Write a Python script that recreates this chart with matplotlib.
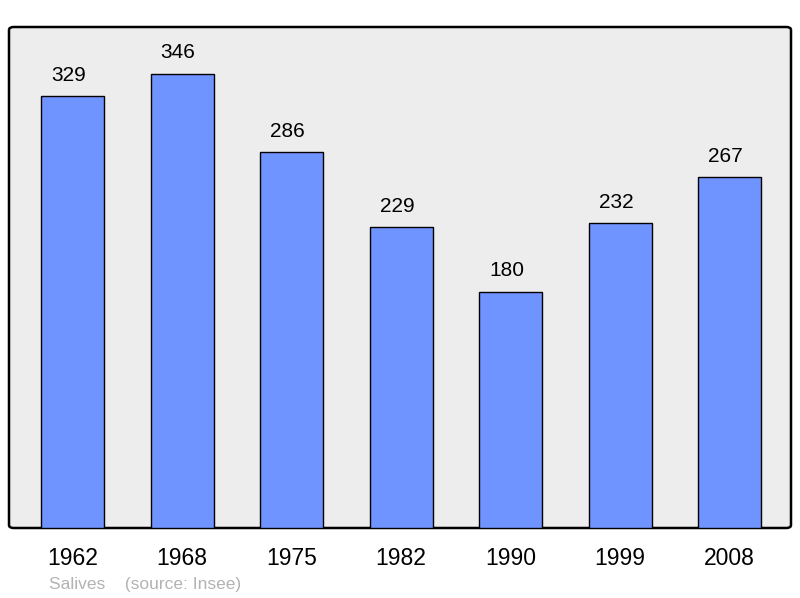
import matplotlib.pyplot as plt
from matplotlib.patches import FancyBboxPatch

# population of Salives by census year
years = ["1962", "1968", "1975", "1982", "1990", "1999", "2008"]
population = [329, 346, 286, 229, 180, 232, 267]

BAR_COLOR = "#7094ff"
BG_COLOR = "#ededed"

plt.rcParams["font.family"] = ["Liberation Sans", "DejaVu Sans"]

fig = plt.figure(figsize=(8, 5.98), dpi=100)
ax = fig.add_axes([9 / 800, 1 - 528 / 598, 782 / 800, 501 / 598])
ax.set_facecolor("none")
for s in ax.spines.values():
    s.set_visible(False)

# rounded frame behind the bars
frame = FancyBboxPatch((0, 0), 1, 1, boxstyle="round,pad=0,rounding_size=0.006",
                       transform=ax.transAxes, facecolor=BG_COLOR,
                       edgecolor="black", linewidth=1.8, zorder=0,
                       clip_on=False)
ax.add_patch(frame)

x = list(range(len(years)))
ax.bar(x, population, width=0.575, color=BAR_COLOR,
       edgecolor="black", linewidth=1.0, zorder=2)

for xi, v in zip(x, population):
    ax.annotate(str(v), (xi, v), xytext=(-3, 15), textcoords="offset points",
                ha="center", va="center", fontsize=15)

ax.set_xlim(-0.58, 6.56)
ax.set_ylim(0, 381.5)
ax.set_xticks(x)
ax.set_xticklabels(years, fontsize=16.5)
ax.tick_params(axis="x", length=0, pad=14)
ax.set_yticks([])

fig.text(49 / 800, 1 - 585 / 598, "Salives    (source: Insee)",
         fontsize=12.5, color="#b3b3b3", va="center", ha="left")

fig.savefig("out.png", dpi=100)
